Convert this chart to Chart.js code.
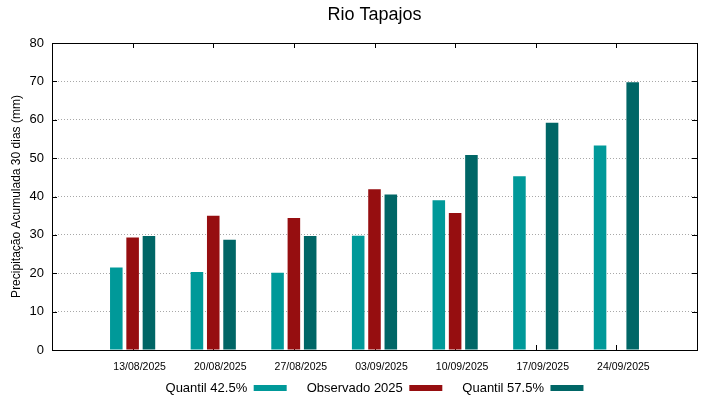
<!DOCTYPE html>
<html>
<head>
<meta charset="utf-8">
<title>Rio Tapajos</title>
<script src="https://cdn.jsdelivr.net/npm/chart.js@4.4.1/dist/chart.umd.min.js"></script>
<style>
    body { margin: 0; background: #fff; }
</style>
</head>
<body>
<canvas id="chuva" width="719" height="399"></canvas>
<script>
    const datas = ['13/08/2025', '20/08/2025', '27/08/2025', '03/09/2025', '10/09/2025', '17/09/2025', '24/09/2025'];
    const quantil425 = [21.5, 20.3, 20.1, 29.8, 39.0, 45.3, 53.3];
    const observado = [29.3, 35.0, 34.4, 41.9, 35.7, null, null];
    const quantil575 = [29.7, 28.7, 29.7, 40.5, 50.8, 59.2, 69.8];

    // empty slot on each side, like the gnuplot xrange
    const pad = arr => [null, ...arr, null];

    // plot frame + inward ticks (gnuplot style)
    const moldura = {
        id: 'moldura',
        beforeDatasetsDraw(chart) {
            const {ctx, chartArea: a, scales: {x, y}} = chart;
            ctx.save();
            ctx.strokeStyle = '#000';
            ctx.lineWidth = 1;
            ctx.beginPath();
            y.ticks.forEach(t => {
                const py = Math.round(y.getPixelForValue(t.value)) + 0.5;
                ctx.moveTo(a.left, py); ctx.lineTo(a.left + 5, py);
                ctx.moveTo(a.right, py); ctx.lineTo(a.right - 5, py);
            });
            for (let i = 1; i <= datas.length; i++) {
                const px = Math.round(x.getPixelForValue(i)) + 0.5;
                ctx.moveTo(px, a.bottom); ctx.lineTo(px, a.bottom - 5);
                ctx.moveTo(px, a.top); ctx.lineTo(px, a.top + 5);
            }
            ctx.stroke();
            ctx.restore();
        },
        afterDatasetsDraw(chart) {
            const {ctx, chartArea: a} = chart;
            ctx.save();
            ctx.strokeStyle = '#000';
            ctx.lineWidth = 1;
            ctx.strokeRect(Math.round(a.left) + 0.5, Math.round(a.top) + 0.5,
                Math.round(a.right - a.left), Math.round(a.bottom - a.top));
            ctx.restore();
        }
    };

    Chart.defaults.font.family = "'Liberation Sans', Arial, sans-serif";
    Chart.defaults.color = '#000';

    new Chart(document.getElementById('chuva'), {
        type: 'bar',
        data: {
            labels: ['', ...datas, ''],
            datasets: [{
                label: 'Quantil 42.5%',
                data: pad(quantil425),
                backgroundColor: 'rgb(0,153,153)'
            }, {
                label: 'Observado 2025',
                data: pad(observado),
                backgroundColor: 'rgb(150,14,16)'
            }, {
                label: 'Quantil 57.5%',
                data: pad(quantil575),
                backgroundColor: 'rgb(0,102,102)'
            }]
        },
        options: {
            responsive: false,
            animation: false,
            layout: { padding: { right: 22 } },
            datasets: {
                bar: { categoryPercentage: 0.607, barPercentage: 0.77 }
            },
            scales: {
                x: {
                    offset: false,
                    grid: { display: false, drawTicks: false },
                    border: { display: false },
                    ticks: { font: { size: 10.5 }, padding: 11.2, labelOffset: 7, maxRotation: 0, autoSkip: false },
                    afterFit: s => { s.height = 23; }
                },
                y: {
                    min: 0,
                    max: 80,
                    ticks: { stepSize: 10, font: { size: 13 }, padding: 8 },
                    grid: {
                        drawTicks: false,
                        color: c => (c.tick && (c.tick.value === 0 || c.tick.value === 80)) ? 'rgba(0,0,0,0)' : '#a8a8a8'
                    },
                    border: { display: false, dash: [1, 2] },
                    title: {
                        display: true,
                        text: 'Precipitação Acumulada 30 dias (mm)',
                        font: { size: 12 },
                        padding: { top: 9.5, bottom: 0 }
                    },
                    afterFit: s => { s.width = 52; }
                }
            },
            plugins: {
                title: {
                    display: true,
                    text: 'Rio Tapajos',
                    fullSize: false,
                    font: { size: 18, weight: 'normal' },
                    padding: { top: 4, bottom: 17.4 }
                },
                legend: {
                    position: 'bottom',
                    fullSize: false,
                    rtl: true,
                    reverse: true,
                    textDirection: 'ltr',
                    maxHeight: 26,
                    // empty title with negative padding pulls the row up under the x labels
                    title: { display: true, text: '', font: { size: 12 }, padding: { top: -25.9, bottom: 0 } },
                    labels: { boxWidth: 33, boxHeight: 6, padding: 20, font: { size: 13 } }
                },
                tooltip: { enabled: false }
            }
        },
        plugins: [moldura]
    });
</script>
</body>
</html>
